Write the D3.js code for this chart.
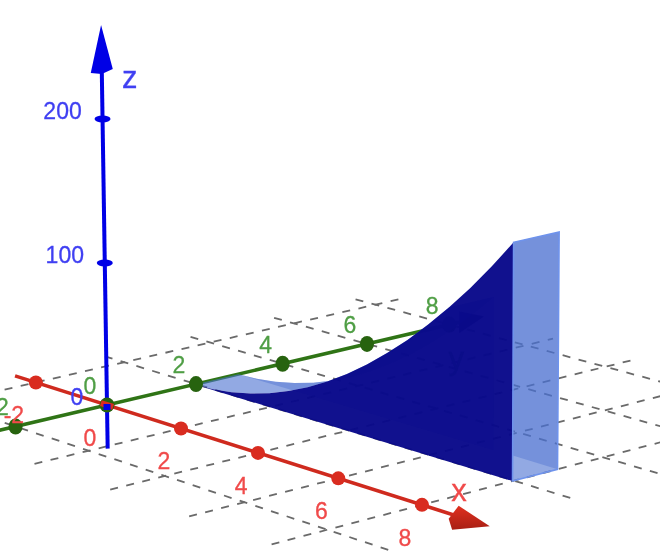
<!DOCTYPE html>
<html><head><meta charset="utf-8">
<style>html,body{margin:0;padding:0;background:#fff}svg{display:block;filter:blur(0.35px)}</style>
<script src="https://cdn.jsdelivr.net/npm/d3@7/dist/d3.min.js"></script></head><body>
<script>
const xTicks=[-2,2,4,6,8];
const yTicks=[-2,2,4,6,8];
const zTicks=[100,200];
const gridX=[-2,2,4,6,8];
const gridY=[-2,2,4,6,8];
const xExtent=[-2.55,9.45];
const yExtent=[-3.15,8.67];
const curveX=[0,.5,1,1.5,2,2.5,3,3.5,4,4.5,5,5.5,6,6.5,7,7.5,8];
const curveZ=[0,.6,2.45,5.5,9.8,15.3,22,30,39.2,49.6,61.3,74.1,88.2,103.5,120,137.8,157];
const solidY=[1.97,2.97];
const endShadeZ=17;

const W=660,H=560;
// each axis scale gives homogeneous screen coordinates [sx, sy, w]
const hx=d3.scaleLinear().domain([0,1]).range([[0,0,0],[36.27,11.5,-0.00985]]);
const hy=d3.scaleLinear().domain([0,1]).range([[0,0,0],[45.1,-10.6,0.0068]]);
const hz=d3.scaleLinear().domain([0,1]).range([[0,0,0],[-0.022,-1.41,-0.00007]]);
const origin=[107,405];
function P(x,y,z){
  const a=hx(x),b=hy(y),c=hz(z);
  const w=1+a[2]+b[2]+c[2];
  return [origin[0]+(a[0]+b[0]+c[0])/w, origin[1]+(a[1]+b[1]+c[1])/w];
}
const path=d3.line().x(d=>P(...d)[0]).y(d=>P(...d)[1]);
const svg=d3.select("body").append("svg").attr("width",W).attr("height",H).attr("viewBox",`0 0 ${W} ${H}`);
const defs=svg.append("defs");
const lg=defs.append("linearGradient").attr("id","cone").attr("x1","0").attr("x2","0").attr("y1","0").attr("y2","1");
lg.append("stop").attr("offset","0").attr("stop-color","#e0301f");
lg.append("stop").attr("offset","1").attr("stop-color","#a81f14");

const FONT='"Liberation Sans",Arial,sans-serif';
const RED="#cf2a1e",REDT="#f04a4a",GREEN="#2f7416",GREEND="#27630f",GREENT="#4f9e45",BLUE="#0000e6",BLUET="#3f3ff2";

function label(t,p,dx,dy,fill,size){
  svg.append("text").text(t).attr("x",p[0]+dx).attr("y",p[1]+dy).attr("text-anchor","middle").attr("dominant-baseline","central")
    .attr("font-family",FONT).attr("font-size",size||23).attr("fill",fill).attr("stroke",fill).attr("stroke-width",.3);
}

// grid
const grid=svg.append("g").attr("fill","none").attr("stroke","#6a6a6a").attr("stroke-width",1.8).attr("stroke-dasharray","8 8.5");
gridX.forEach(x=>grid.append("path").attr("d",path([[x,yExtent[0],0],[x,yExtent[1],0]])));
gridY.forEach(y=>grid.append("path").attr("d",path([[xExtent[0],y,0],[xExtent[1],y,0]])));

// y axis (behind the solid), its cone and label seen through the wall
svg.append("path").attr("d",path([[0,-2.5,0],[0,8.3,0]])).attr("stroke",GREEN).attr("stroke-width",3.6).attr("fill","none");
svg.append("path").attr("d",path([[0,8.86,0],[0,8.25,8],[0,8.25,-8]])+"Z").attr("fill","#10104a");
svg.selectAll(".ty0").data(yTicks.filter(d=>d===8)).join("ellipse").attr("cx",d=>P(0,d,0)[0]).attr("cy",d=>P(0,d,0)[1]).attr("rx",7).attr("ry",8).attr("fill",GREEND);
label("y",P(0,8,0),7,34,GREENT,31);

// solid
const cut=14; // the parts behind the end wall stop here
const front=curveX.map((x,i)=>[x,solidY[0],curveZ[i]]);
const back=curveX.map((x,i)=>[x,solidY[1],curveZ[i]]);
const last=curveX.length-1, xEnd=curveX[last], zEnd=curveZ[last];
const light="#4a6fd0";
const backPart=back.slice(0,cut), frontPart=front.slice(0,cut);
// back wall
svg.append("path").attr("d",path([...backPart,[backPart[cut-1][0],solidY[1],0],[0,solidY[1],0]])+"Z").attr("fill",light).attr("fill-opacity",.4);
// top surface
svg.append("path").attr("d",path([...frontPart,...backPart.slice().reverse()])+"Z").attr("fill",light).attr("fill-opacity",.6);
// front wall
svg.append("path").attr("d",path([...front,[xEnd,solidY[0],0],[0,solidY[0],0]])+"Z").attr("fill","#08088a").attr("fill-opacity",.965);
// end wall, with its darker upper part
svg.append("path").attr("d",path([[xEnd,solidY[0],endShadeZ],[xEnd,solidY[1],0],[xEnd,solidY[1],zEnd],[xEnd,solidY[0],zEnd]])+"Z")
  .attr("fill",light).attr("fill-opacity",.4);
svg.append("path").attr("d",path([[xEnd,solidY[0],0],[xEnd,solidY[1],0],[xEnd,solidY[1],zEnd],[xEnd,solidY[0],zEnd]])+"Z")
  .attr("fill",light).attr("fill-opacity",.6).attr("stroke","#6f93ec").attr("stroke-width",1.6);

// x axis
svg.append("path").attr("d",path([[-2.6,0,0],[8.9,0,0]])).attr("stroke",RED).attr("stroke-width",3.6).attr("fill","none");
svg.append("path").attr("d",path([[9.56,0,0],[8.7,0,-10],[8.62,0,-3.6],[8.85,0,7]])+"Z").attr("fill","url(#cone)");
// z axis
svg.append("path").attr("d",path([[0,0,-31],[0,0,236]])).attr("stroke",BLUE).attr("stroke-width",4).attr("fill","none");
svg.append("path").attr("d",path([[0,-.24,233],[0,0,264.5],[0,.24,233],[0,0,231]])+"Z").attr("fill",BLUE);

// tick dots
svg.selectAll(".tx").data(xTicks).join("circle").attr("cx",d=>P(d,0,0)[0]).attr("cy",d=>P(d,0,0)[1]).attr("r",7).attr("fill","#d92c20");
svg.selectAll(".ty").data(yTicks.filter(d=>d<8)).join("ellipse").attr("cx",d=>P(0,d,0)[0]).attr("cy",d=>P(0,d,0)[1]).attr("rx",7).attr("ry",8).attr("fill",GREEND);
svg.selectAll(".tz").data(zTicks).join("ellipse").attr("cx",d=>P(0,0,d)[0]).attr("cy",d=>P(0,0,d)[1]).attr("rx",8).attr("ry",3.4).attr("fill",BLUE);
// origin markers
const O=P(0,0,0);
svg.append("circle").attr("cx",O[0]).attr("cy",O[1]).attr("r",7.5).attr("fill",GREEND);
svg.append("path").attr("d",path([[-.17,0,0],[.17,0,0]])).attr("stroke","#d92c20").attr("stroke-width",6);
svg.append("rect").attr("x",O[0]-3.5).attr("y",O[1]-1).attr("width",7).attr("height",6).attr("fill",BLUE);

// labels
[-2,0,...xTicks.slice(1)].forEach(d=>label(String(d),P(d,0,0),d<0?-22:-17,33,REDT));
[-2,0,...yTicks.slice(1)].forEach(d=>label(String(d),P(0,d,0),-17,-19,GREENT));
[0,...zTicks].forEach(d=>label(String(d),P(0,0,d),d?-40:-30,-8,BLUET));
label("x",P(8,0,0),37,-14,REDT,31);
label("z",P(0,0,230),28,2.5,BLUET,31);
</script></body></html>
